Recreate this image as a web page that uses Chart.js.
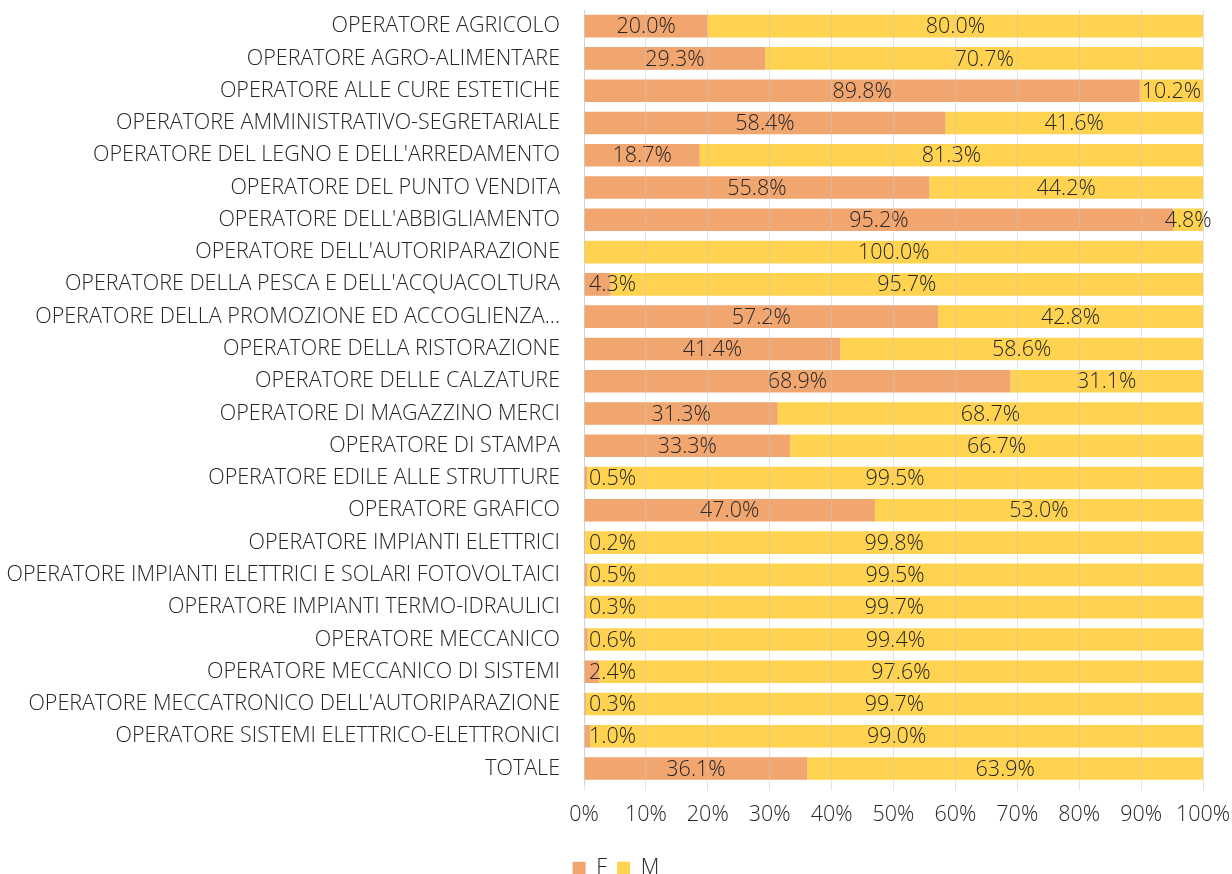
<!DOCTYPE html>
<html>
<head>
<meta charset="utf-8">
<script src="https://cdn.jsdelivr.net/npm/chart.js@4"></script>
<style>
  html, body { margin: 0; padding: 0; background: #ffffff; }
  #wrap { width: 1232px; height: 874px; }
</style>
</head>
<body>
<div id="wrap"><canvas id="graph"></canvas></div>
<script>
var categories = [
    "OPERATORE AGRICOLO",
    "OPERATORE AGRO-ALIMENTARE",
    "OPERATORE ALLE CURE ESTETICHE",
    "OPERATORE AMMINISTRATIVO-SEGRETARIALE",
    "OPERATORE DEL LEGNO E DELL'ARREDAMENTO",
    "OPERATORE DEL PUNTO VENDITA",
    "OPERATORE DELL'ABBIGLIAMENTO",
    "OPERATORE DELL'AUTORIPARAZIONE",
    "OPERATORE DELLA PESCA E DELL'ACQUACOLTURA",
    "OPERATORE DELLA PROMOZIONE ED ACCOGLIENZA...",
    "OPERATORE DELLA RISTORAZIONE",
    "OPERATORE DELLE CALZATURE",
    "OPERATORE DI MAGAZZINO MERCI",
    "OPERATORE DI STAMPA",
    "OPERATORE EDILE ALLE STRUTTURE",
    "OPERATORE GRAFICO",
    "OPERATORE IMPIANTI ELETTRICI",
    "OPERATORE IMPIANTI ELETTRICI E SOLARI FOTOVOLTAICI",
    "OPERATORE IMPIANTI TERMO-IDRAULICI",
    "OPERATORE MECCANICO",
    "OPERATORE MECCANICO DI SISTEMI",
    "OPERATORE MECCATRONICO DELL'AUTORIPARAZIONE",
    "OPERATORE SISTEMI ELETTRICO-ELETTRONICI",
    "TOTALE"
];

var values_f = [20.0, 29.3, 89.8, 58.4, 18.7, 55.8, 95.2, 0.0, 4.3, 57.2, 41.4, 68.9,
                31.3, 33.3, 0.5, 47.0, 0.2, 0.5, 0.3, 0.6, 2.4, 0.3, 1.0, 36.1];
var values_m = [80.0, 70.7, 10.2, 41.6, 81.3, 44.2, 4.8, 100.0, 95.7, 42.8, 58.6, 31.1,
                68.7, 66.7, 99.5, 53.0, 99.8, 99.5, 99.7, 99.4, 97.6, 99.7, 99.0, 63.9];

var x_ticks = [0, 10, 20, 30, 40, 50, 60, 70, 80, 90, 100];

var FONT = "'Open Sans', sans-serif";
var TEXT = "#262626";
var FSIZE = 21.5;

// labels in the middle of each segment, pushed right when the segment is too thin
var segmentLabels = {
    id: 'segmentLabels',
    afterDatasetsDraw: function(chart) {
        var ctx = chart.ctx;
        var area = chart.chartArea;
        ctx.save();
        ctx.font = "300 " + FSIZE + "px " + FONT;
        ctx.fillStyle = TEXT;
        ctx.textAlign = 'center';
        ctx.textBaseline = 'middle';
        chart.data.datasets.forEach(function(ds, di) {
            var meta = chart.getDatasetMeta(di);
            meta.data.forEach(function(bar, i) {
                var v = ds.data[i];
                if (!v) return;
                var txt = v.toFixed(1) + '%';
                var w = ctx.measureText(txt).width;
                var left = Math.min(bar.x, bar.base);
                var right = Math.max(bar.x, bar.base);
                var cx = (left + right) / 2;
                if (cx - w / 2 < area.left + 5) cx = area.left + 5 + w / 2;
                ctx.fillText(txt, cx, bar.y + 1);
            });
        });
        ctx.restore();
    }
};

var data_chart = {
    labels: categories,
    datasets: [
        {
            label: "F",
            data: values_f,
            backgroundColor: "#F1A56F",
            borderWidth: 0,
            categoryPercentage: 1.0,
            barPercentage: 0.7
        },
        {
            label: "M",
            data: values_m,
            backgroundColor: "#FFD34F",
            borderWidth: 0,
            categoryPercentage: 1.0,
            barPercentage: 0.7
        }
    ]
};

var options = {
    indexAxis: 'y',
    responsive: true,
    maintainAspectRatio: false,
    animation: false,
    layout: { padding: { top: 10, right: 0, bottom: -15, left: 0 } },
    plugins: {
        legend: {
            position: 'bottom',
            labels: {
                font: { family: FONT, size: FSIZE, weight: 300 },
                color: TEXT,
                boxWidth: 13,
                boxHeight: 13,
                padding: 10
            }
        },
        tooltip: { enabled: false }
    },
    scales: {
        x: {
            stacked: true,
            min: 0,
            max: 100,
            afterBuildTicks: function(scale) {
                scale.ticks = x_ticks.map(function(v) { return { value: v }; });
            },
            afterFit: function(scale) {
                scale.height += 9;
                scale.paddingRight = 29;
            },
            ticks: {
                callback: function(v) { return v + '%'; },
                font: { family: FONT, size: FSIZE, weight: 300 },
                color: TEXT,
                padding: 11,
                maxRotation: 0
            },
            grid: { color: "rgba(200,200,200,0.5)", lineWidth: 1, z: 1, drawTicks: true, tickLength: 6 },
            border: { display: false }
        },
        y: {
            stacked: true,
            afterFit: function(scale) {
                scale.width = 584;
                scale.paddingTop = 0;
                scale.paddingBottom = 0;
            },
            ticks: {
                font: { family: FONT, size: FSIZE, weight: 300 },
                color: TEXT,
                padding: 24,
                autoSkip: false
            },
            grid: { display: false, drawTicks: false },
            border: { display: true, color: "#d9d9d9" }
        }
    }
};

var ctx_graph = document.getElementById("graph").getContext("2d");
var myBarChart = new Chart(ctx_graph, {
    type: 'bar',
    data: data_chart,
    options: options,
    plugins: [segmentLabels]
});
</script>
</body>
</html>
